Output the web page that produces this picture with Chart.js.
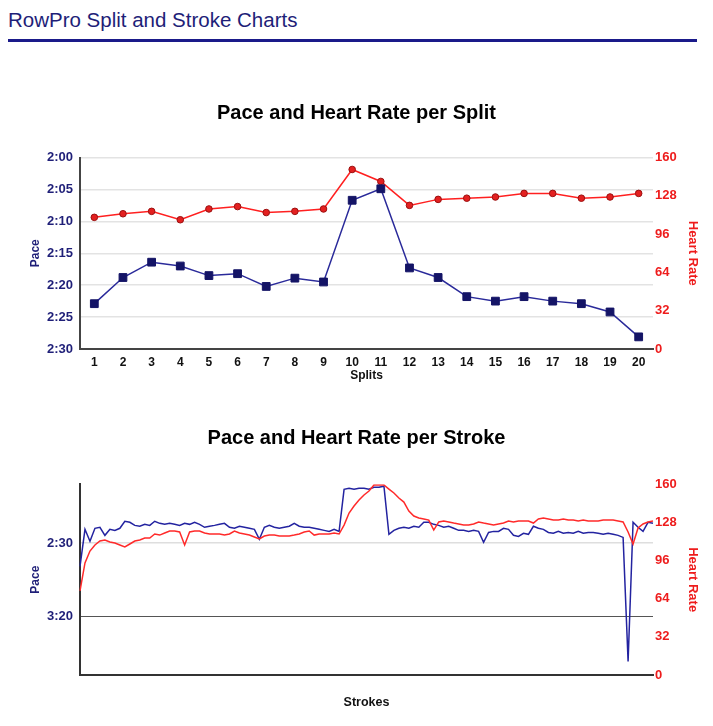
<!DOCTYPE html>
<html>
<head>
<meta charset="utf-8">
<title>RowPro Split and Stroke Charts</title>
<script src="https://cdn.jsdelivr.net/npm/chart.js@4.4.1/dist/chart.umd.min.js"></script>
<style>
  html, body { margin: 0; padding: 0; background: #fff; }
  body { width: 713px; height: 726px; position: relative; overflow: hidden; font-family: "Liberation Sans", Arial, sans-serif; }
  #header { position: absolute; left: 8px; top: 8px; font-size: 20.5px; line-height: 24px; color: #1e1e78; }
  #rule { position: absolute; left: 8px; top: 39px; width: 689px; height: 3px; background: #1a1a8a; }
  #splitChart { position: absolute; left: 0; top: 90px; }
  #strokeChart { position: absolute; left: 0; top: 395px; }
</style>
</head>
<body>
<div id="header">RowPro Split and Stroke Charts</div>
<div id="rule"></div>
<canvas id="splitChart" width="713" height="300"></canvas>
<canvas id="strokeChart" width="713" height="318"></canvas>
<script>
// split data (pace in seconds per 500m, heart rate in bpm)
const splitLabels = ['1', '2', '3', '4', '5', '6', '7', '8', '9', '10',
                     '11', '12', '13', '14', '15', '16', '17', '18', '19', '20'];
const splitPace = [142.9, 138.8, 136.4, 137.0, 138.5, 138.2, 140.2, 138.9, 139.5, 126.7,
                   124.9, 137.3, 138.8, 141.8, 142.5, 141.8, 142.5, 142.9, 144.2, 148.1];
const splitHeartRate = [110, 113, 115, 108, 117, 119, 114, 115, 117, 150,
                        140, 120, 125, 126, 127, 130, 130, 126, 127, 130];

// stroke data
const strokePace = [
  165.9, 140.7, 148.8, 140.0, 139.3, 144.8, 140.7, 141.4, 140.0, 135.2,
  135.9, 138.0, 138.6, 137.3, 138.0, 135.2, 136.6, 137.3, 136.6, 137.3,
  138.0, 136.6, 137.3, 135.9, 137.3, 139.3, 138.6, 138.0, 137.3, 136.6,
  139.3, 140.0, 138.6, 139.3, 140.0, 140.7, 147.5, 139.3, 138.0, 139.3,
  140.0, 139.3, 138.6, 136.6, 138.6, 139.3, 139.3, 140.0, 140.7, 141.4,
  142.1, 140.7, 142.1, 113.4, 112.7, 113.4, 112.7, 112.7, 113.4, 112.0,
  112.0, 111.3, 144.1, 141.4, 140.0, 139.3, 140.0, 138.6, 139.3, 135.9,
  135.9, 137.3, 138.0, 139.3, 138.6, 140.0, 141.4, 141.4, 142.1, 141.4,
  142.1, 149.5, 142.8, 142.1, 142.1, 140.0, 140.7, 144.8, 145.5, 143.4,
  144.1, 138.6, 140.0, 140.7, 142.8, 143.4, 142.1, 143.4, 142.8, 143.4,
  142.1, 143.4, 142.8, 142.8, 143.4, 144.1, 143.4, 144.1, 144.8, 146.2,
  230.7, 135.9, 139.3, 142.1, 135.9, 136.6
];
const strokeHeartRate = [
  70.5, 94.0, 104.0, 109.1, 112.4, 113.3, 111.6, 110.7, 109.1, 107.4,
  109.9, 112.4, 113.3, 114.9, 114.9, 118.3, 117.4, 119.1, 120.8, 120.8,
  120.0, 109.1, 120.0, 120.8, 120.8, 119.1, 118.3, 118.3, 118.3, 117.4,
  118.3, 120.8, 119.1, 118.3, 117.4, 115.8, 114.1, 116.6, 117.4, 117.4,
  116.6, 116.6, 116.6, 117.4, 118.3, 120.0, 120.8, 117.4, 118.3, 118.3,
  118.3, 119.1, 118.3, 125.8, 135.9, 141.8, 146.8, 151.0, 154.4, 159.4,
  159.4, 159.4, 156.0, 152.7, 148.5, 145.1, 137.6, 133.4, 131.7, 130.9,
  130.0, 121.6, 128.4, 129.2, 128.4, 127.5, 126.7, 125.8, 125.8, 126.7,
  128.4, 127.5, 126.7, 125.8, 126.7, 127.5, 129.2, 128.4, 129.2, 129.2,
  129.2, 127.5, 130.9, 131.7, 130.9, 130.0, 130.0, 130.9, 130.0, 130.0,
  129.2, 130.0, 129.2, 129.2, 129.2, 130.0, 130.0, 130.0, 129.2, 128.4,
  120.0, 109.9, 123.3, 126.7, 128.4, 129.2
];
const strokeLabels = strokePace.map((_, i) => String(i + 1));
const strokePaceTicks = [150, 200];

const NAVY = '#1f1f78';
const RED = '#ee1c1c';

Chart.defaults.font.family = '"Liberation Sans", Arial, sans-serif';
Chart.defaults.animation = false;

const fmtPace = (v) => {
  const m = Math.floor(v / 60);
  const s = Math.round(v - m * 60);
  return m + ':' + (s < 10 ? '0' : '') + s;
};

const leftWidth = (scale) => { scale.width = 80; };
const rightWidth = (scale) => { scale.width = 60; };

new Chart('splitChart', {
  type: 'line',
  data: {
    labels: splitLabels,
    datasets: [{
      label: 'Pace',
      data: splitPace,
      yAxisID: 'pace',
      borderColor: '#2a2a9a',
      borderWidth: 1.5,
      pointStyle: 'rect',
      pointRadius: 5.5,
      pointBackgroundColor: '#141466',
      pointBorderColor: '#141466',
      pointBorderWidth: 1,
      tension: 0
    }, {
      label: 'Heart Rate',
      data: splitHeartRate,
      yAxisID: 'hr',
      borderColor: '#ff2020',
      borderWidth: 1.5,
      pointRadius: 3.3,
      pointBackgroundColor: '#e32020',
      pointBorderColor: '#9a1010',
      pointBorderWidth: 1,
      tension: 0
    }]
  },
  options: {
    responsive: false,
    layout: { padding: { top: 0, left: 0, right: 0, bottom: 5 } },
    plugins: {
      legend: { display: false },
      tooltip: { enabled: false },
      title: {
        display: true,
        text: 'Pace and Heart Rate per Split',
        color: '#000',
        font: { size: 20, weight: 'bold' },
        padding: { top: 11.5, bottom: 32 }
      }
    },
    scales: {
      x: {
        offset: true,
        afterFit: (scale) => { scale.height = 36; },
        grid: { display: false, drawTicks: false, offset: true },
        border: { display: true, color: '#444', width: 2 },
        ticks: { color: '#111', font: { size: 12, weight: 'bold' }, padding: 6, maxRotation: 0, autoSkip: false },
        title: { display: true, text: 'Splits', color: '#111', font: { size: 12, weight: 'bold' }, padding: { top: 0, bottom: 1.8 } }
      },
      pace: {
        position: 'left',
        reverse: true,
        min: 120,
        max: 150,
        afterFit: leftWidth,
        grid: { color: '#e3e3e3', lineWidth: 1.5, drawTicks: false },
        border: { display: true, color: '#444', width: 2 },
        ticks: { stepSize: 5, color: NAVY, font: { size: 13, weight: 'bold' }, padding: 7, callback: (v) => fmtPace(v) },
        title: { display: true, text: 'Pace', color: NAVY, font: { size: 12, weight: 'bold' }, padding: { top: 28, bottom: 0 } }
      },
      hr: {
        position: 'right',
        min: 0,
        max: 160,
        afterFit: rightWidth,
        grid: { display: false, drawTicks: false },
        border: { display: false },
        ticks: { stepSize: 32, color: RED, font: { size: 13, weight: 'bold' }, padding: 2 },
        title: { display: true, text: 'Heart Rate', color: RED, font: { size: 13, weight: 'bold' }, padding: { top: 13, bottom: 0 } }
      }
    }
  }
});

new Chart('strokeChart', {
  type: 'line',
  data: {
    labels: strokeLabels,
    datasets: [{
      label: 'Heart Rate',
      data: strokeHeartRate,
      yAxisID: 'hr',
      borderColor: '#ff2a2a',
      borderWidth: 1.5,
      pointRadius: 0,
      tension: 0
    }, {
      label: 'Pace',
      data: strokePace,
      yAxisID: 'pace',
      borderColor: '#2323a0',
      borderWidth: 1.5,
      pointRadius: 0,
      tension: 0
    }]
  },
  options: {
    responsive: false,
    layout: { padding: { top: 0, left: 0, right: 0, bottom: 3 } },
    plugins: {
      legend: { display: false },
      tooltip: { enabled: false },
      title: {
        display: true,
        text: 'Pace and Heart Rate per Stroke',
        color: '#000',
        font: { size: 20, weight: 'bold' },
        padding: { top: 31.3, bottom: 34 }
      }
    },
    scales: {
      x: {
        grid: { display: false, drawTicks: false },
        border: { display: true, color: '#333', width: 2 },
        ticks: { display: false },
        title: { display: true, text: 'Strokes', color: '#111', font: { size: 12.5, weight: 'bold' }, padding: { top: 20, bottom: 0 } }
      },
      pace: {
        position: 'left',
        reverse: true,
        min: 110,
        max: 240,
        afterFit: leftWidth,
        afterBuildTicks: (scale) => { scale.ticks = strokePaceTicks.map((v) => ({ value: v })); },
        grid: {
          drawTicks: false,
          color: (ctx) => (ctx.tick && ctx.tick.value === 200 ? '#555' : '#dedede'),
          lineWidth: (ctx) => (ctx.tick && ctx.tick.value === 200 ? 1 : 1.5)
        },
        border: { display: true, color: '#333', width: 2 },
        ticks: { color: NAVY, font: { size: 13, weight: 'bold' }, padding: 7, callback: (v) => fmtPace(v) },
        title: { display: true, text: 'Pace', color: NAVY, font: { size: 12, weight: 'bold' }, padding: { top: 28, bottom: 0 } }
      },
      hr: {
        position: 'right',
        min: 0,
        max: 160,
        afterFit: rightWidth,
        grid: { display: false, drawTicks: false },
        border: { display: false },
        ticks: { stepSize: 32, color: RED, font: { size: 13, weight: 'bold' }, padding: 2 },
        title: { display: true, text: 'Heart Rate', color: RED, font: { size: 13, weight: 'bold' }, padding: { top: 13, bottom: 0 } }
      }
    }
  }
});
</script>
</body>
</html>
